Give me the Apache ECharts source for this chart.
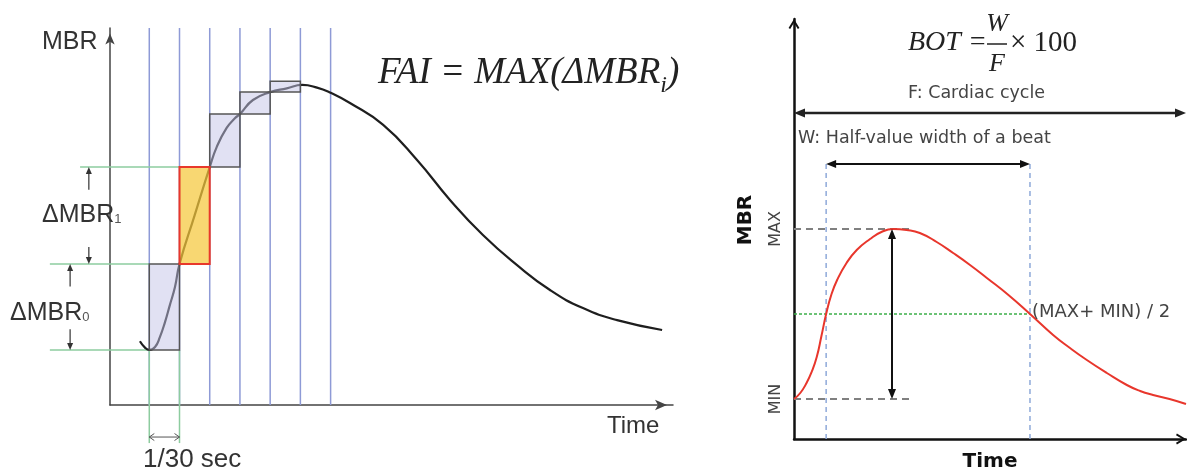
<!DOCTYPE html>
<html>
<head>
<meta charset="utf-8">
<script src="https://cdn.jsdelivr.net/npm/echarts@6/dist/echarts.min.js"></script>
<style>
  html, body { margin: 0; padding: 0; background: #ffffff; }
  #chart { width: 1187px; height: 475px; }
</style>
</head>
<body>
<div id="chart"></div>
<script>
// ---------- Left panel: MBR waveform sampled per video frame (1 frame = 1/30 s) ----------
const frameLines = [0, 1, 2, 3, 4, 5, 6];              // frame boundaries drawn as vertical lines
const frameIndex = [0, 1, 2, 3, 4, 5];                  // sampled frames
const frameMBR   = [14.6, 37.4, 63.1, 77.2, 83.0, 85.9];// MBR at each sampled frame
const curveFrame = [-0.31, -0.15, 0, 0.19, 0.35, 0.52, 0.68, 0.85, 1, 1.5, 2, 2.23, 2.56, 2.84, 3, 3.43, 4,
                    4.55, 5.06, 5.55, 5.98, 6.64, 7.74, 8.86, 9.95, 11.04, 12.17, 13.26, 14.35, 15.48, 16.97];
const curveMBR   = [16.9, 15.3, 14.6, 15.4, 18.0, 22.0, 26.5, 31.3, 37.4, 50.3, 63.1, 68.4, 73.5, 76.1, 77.2, 80.9, 83.0,
                    84.0, 84.9, 84.2, 82.9, 80.1, 74.3, 65.0, 54.4, 45.1, 37.1, 30.5, 25.7, 22.5, 19.9];

// ---------- Right panel: one beat of the MBR waveform ----------
const beatTime = [0, 1.6, 3.2, 4.5, 5.8, 7.0, 8.2, 9.5, 11.0, 13.4, 16.0, 19.4, 22.3, 25.3, 28.7, 32.1, 36.4,
                  40.6, 44.9, 49.2, 54.7, 60.2, 66.1, 70.4, 74.7, 79.8, 84.9, 88.3, 91.6, 95.8, 100];
const beatMBR  = [20, 23, 28, 33.5, 41, 51.5, 62.5, 72, 79.5, 88, 94.5, 100, 103.5, 105, 104.5, 103, 98.5,
                  93, 87, 80.5, 72, 62.5, 52, 45.5, 39.5, 33, 27, 24, 22, 20, 17.5];
const mbrMin = 20;
const mbrMax = 105;
const mbrHalf = (mbrMax + mbrMin) / 2;
const halfWidthTime = [8.2, 60.2];   // where the beat crosses (MAX+MIN)/2
const cycleTime = [0, 100];          // one cardiac cycle
const peakTime = 25;

// ---------- helpers ----------
const SANS = '"Liberation Sans", Arial, sans-serif';
const VERD = '"DejaVu Sans", Verdana, sans-serif';
const SERIF = '"Liberation Serif", "Times New Roman", serif';
const chevron = 'path://M0,10 L6,0 L12,10 L10.2,11 L6,4 L1.8,11 Z';

// Straight segments [x0, y0, x1, y1] in data space, with optional arrow heads
function segmentSeries(gridIdx, segs, st) {
  return {
    type: 'custom',
    xAxisIndex: gridIdx, yAxisIndex: gridIdx,
    z: st.z || 2, silent: true, clip: false,
    encode: { x: [0, 2], y: [1, 3] },
    data: segs,
    renderItem: function (params, api) {
      const a = api.coord([api.value(0), api.value(1)]);
      const b = api.coord([api.value(2), api.value(3)]);
      const dx = b[0] - a[0], dy = b[1] - a[1];
      const len = Math.hypot(dx, dy) || 1;
      const ux = dx / len, uy = dy / len, nx = -uy, ny = ux;
      const L = st.headLen || 0, W = st.headWidth || 0;
      const children = [];
      let s = a.slice(), e = b.slice();
      function head(tip, dxu, dyu) {
        const bx = tip[0] - dxu * L, by = tip[1] - dyu * L;
        const p1 = [bx + nx * W / 2, by + ny * W / 2];
        const p2 = [bx - nx * W / 2, by - ny * W / 2];
        if (st.headType === 'open') {
          children.push({ type: 'polyline', shape: { points: [p1, tip.slice(), p2] },
            style: { stroke: st.color, lineWidth: st.headLineWidth || st.width, fill: 'none' } });
        } else {
          children.push({ type: 'polygon', shape: { points: [p1, tip.slice(), p2] },
            style: { fill: st.color } });
        }
      }
      if (st.end) {
        head(b, ux, uy);
        if (st.headType !== 'open') e = [b[0] - ux * L * 0.7, b[1] - uy * L * 0.7];
      }
      if (st.start) {
        head(a, -ux, -uy);
        if (st.headType !== 'open') s = [a[0] + ux * L * 0.7, a[1] + uy * L * 0.7];
      }
      children.unshift({ type: 'line', shape: { x1: s[0], y1: s[1], x2: e[0], y2: e[1] },
        style: { stroke: st.color, lineWidth: st.width, lineDash: st.dash || null } });
      return { type: 'group', children: children };
    }
  };
}

// Step rectangles between consecutive frame samples
const steps = frameIndex.slice(0, -1).map((f, i) => [f, frameIndex[i + 1], frameMBR[i], frameMBR[i + 1]]);
const deltas = steps.map(r => r[3] - r[2]);
const maxIdx = deltas.indexOf(Math.max.apply(null, deltas));

function rectSeries(data, st) {
  return {
    type: 'custom', xAxisIndex: 0, yAxisIndex: 0, z: st.z, silent: true, clip: false,
    encode: { x: [0, 1], y: [2, 3] },
    data: data,
    renderItem: function (params, api) {
      const p0 = api.coord([api.value(0), api.value(3)]);
      const p1 = api.coord([api.value(1), api.value(2)]);
      return { type: 'rect',
        shape: { x: p0[0], y: p0[1], width: p1[0] - p0[0], height: p1[1] - p0[1] },
        style: { fill: st.fill, stroke: st.stroke, lineWidth: st.width } };
    }
  };
}

function txt(x, y, text, o) {
  return { type: 'text', x: x, y: y, silent: true, z: 20,
    style: Object.assign({ text: text, align: 'left', verticalAlign: 'middle', fill: '#333' }, o) };
}

const guideLeft0 = -3.29, guideLeft1 = -2.29, below = -10.1;

const option = {
  backgroundColor: '#ffffff',
  animation: false,
  grid: [
    { left: 110, top: 28, width: 563, height: 377, outerBoundsMode: 'none', containLabel: false },
    { left: 794, top: 19, width: 392, height: 420, outerBoundsMode: 'none', containLabel: false }
  ],
  xAxis: [
    { gridIndex: 0, type: 'value', min: -1.3, max: 17.33,
      axisLine: { show: true, onZero: false, symbol: ['none', 'arrow'], symbolSize: [8, 12], symbolOffset: [0, -6],
                  lineStyle: { color: '#444', width: 1.5 } },
      axisTick: { show: false }, axisLabel: { show: false }, splitLine: { show: false } },
    { gridIndex: 1, type: 'value', min: 0, max: 100,
      name: 'Time', nameLocation: 'middle', nameGap: 13,
      nameTextStyle: { fontFamily: VERD, fontWeight: 'bold', fontSize: 20, color: '#111' },
      axisLine: { show: true, onZero: false, symbol: ['none', chevron], symbolSize: [12, 10], symbolOffset: [0, -5],
                  lineStyle: { color: '#111', width: 2.5 } },
      axisTick: { show: false }, axisLabel: { show: false }, splitLine: { show: false } }
  ],
  yAxis: [
    { gridIndex: 0, type: 'value', min: 0, max: 100,
      axisLine: { show: true, onZero: false, symbol: ['none', 'arrow'], symbolSize: [7, 11], symbolOffset: [0, -5.5],
                  lineStyle: { color: '#444', width: 1.5 } },
      axisTick: { show: false }, axisLabel: { show: false }, splitLine: { show: false } },
    { gridIndex: 1, type: 'value', min: 0, max: 210,
      name: 'MBR', nameLocation: 'middle', nameRotate: 90, nameGap: 38,
      nameTextStyle: { fontFamily: VERD, fontWeight: 'bold', fontSize: 20, color: '#111', padding: [0, 0, 0, 18] },
      axisLine: { show: true, onZero: false, symbol: ['none', chevron], symbolSize: [12, 10], symbolOffset: [0, -5],
                  lineStyle: { color: '#111', width: 2.5 } },
      axisTick: { show: false }, splitLine: { show: false },
      axisLabel: { show: true, customValues: [mbrMin, mbrMax], rotate: 90, margin: 10,
                   formatter: v => (v === mbrMin ? 'MIN' : 'MAX'),
                   fontFamily: VERD, fontSize: 16, color: '#444' } }
  ],
  series: [
    // frame boundaries
    segmentSeries(0, frameLines.map(f => [f, 0, f, 100]), { color: '#8e9ad6', width: 1.5, z: 1 }),
    // green guides for ΔMBR and the 1/30 s interval
    segmentSeries(0, [
      [guideLeft0, frameMBR[0], frameIndex[0], frameMBR[0]],
      [guideLeft0, frameMBR[1], frameIndex[0], frameMBR[1]],
      [guideLeft1, frameMBR[2], frameIndex[1], frameMBR[2]],
      [frameIndex[0], frameMBR[0], frameIndex[0], below],
      [frameIndex[1], frameMBR[0], frameIndex[1], below]
    ], { color: '#8dcc9f', width: 1.5, z: 2 }),
    // MBR waveform
    { type: 'line', xAxisIndex: 0, yAxisIndex: 0, z: 3, clip: false, silent: true,
      data: curveFrame.map((t, i) => [t, curveMBR[i]]),
      showSymbol: false, symbol: 'none', smooth: 0.5,
      lineStyle: { color: '#1e1e1e', width: 2.2 } },
    // step rectangles
    rectSeries(steps.filter((r, i) => i !== maxIdx), { fill: 'rgba(195,195,232,0.5)', stroke: '#555', width: 1.5, z: 4 }),
    rectSeries([steps[maxIdx]], { fill: 'rgba(245,200,60,0.72)', stroke: '#e8382b', width: 2, z: 5 }),
    // ΔMBR arrows
    segmentSeries(0, [
      [-2.0, frameMBR[2] - 6, -2.0, frameMBR[2]],
      [-2.0, frameMBR[1] + 4.5, -2.0, frameMBR[1]],
      [-2.62, frameMBR[1] - 6, -2.62, frameMBR[1]],
      [-2.62, frameMBR[0] + 5.5, -2.62, frameMBR[0]]
    ], { color: '#333', width: 1.2, end: true, headLen: 7, headWidth: 6, z: 6 }),
    // 1/30 s interval
    segmentSeries(0, [[frameIndex[0], -8.5, frameIndex[1], -8.5]],
      { color: '#555', width: 1, start: true, end: true, headType: 'open', headLen: 5, headWidth: 7, z: 6 }),

    // ----- right panel -----
    segmentSeries(1, halfWidthTime.map(t => [t, 0, t, 139.5]),
      { color: '#8ea9d9', width: 1.5, dash: [5, 4], z: 1 }),
    segmentSeries(1, [[0, mbrMax, 29.6, mbrMax], [0, mbrMin, 29.6, mbrMin]],
      { color: '#808080', width: 2, dash: [7, 5], z: 2 }),
    segmentSeries(1, [[0, mbrHalf, halfWidthTime[1], mbrHalf]],
      { color: '#3cae4a', width: 1.5, dash: [3, 2], z: 2 }),
    { type: 'line', xAxisIndex: 1, yAxisIndex: 1, z: 3, clip: false, silent: true,
      data: beatTime.map((t, i) => [t, beatMBR[i]]),
      showSymbol: false, symbol: 'none', smooth: 0.5,
      lineStyle: { color: '#e8362c', width: 2 } },
    segmentSeries(1, [[cycleTime[0], 163, cycleTime[1], 163]],
      { color: '#222', width: 2.5, start: true, end: true, headLen: 11, headWidth: 9, z: 4 }),
    segmentSeries(1, [[halfWidthTime[0], 137.5, halfWidthTime[1], 137.5], [peakTime, mbrMin, peakTime, mbrMax]],
      { color: '#111', width: 2, start: true, end: true, headLen: 10, headWidth: 8, z: 4 })
  ],
  graphic: [
    txt(42, 42, 'MBR', { fontFamily: SANS, fontSize: 25 }),
    txt(607, 426, 'Time', { fontFamily: SANS, fontSize: 24 }),
    txt(42, 215, '{a|ΔMBR}{s|1}', { rich: {
      a: { fontFamily: SANS, fontSize: 25, fill: '#333', verticalAlign: 'bottom' },
      s: { fontFamily: SANS, fontSize: 13, fill: '#555', verticalAlign: 'bottom', padding: [0, 0, 2, 0] } } }),
    txt(10, 313, '{a|ΔMBR}{s|0}', { rich: {
      a: { fontFamily: SANS, fontSize: 25, fill: '#333', verticalAlign: 'bottom' },
      s: { fontFamily: SANS, fontSize: 13, fill: '#555', verticalAlign: 'bottom', padding: [0, 0, 2, 0] } } }),
    txt(143, 460, '1/30 sec', { fontFamily: SANS, fontSize: 26 }),
    txt(378, 76, '{m|FAI = MAX(ΔMBR}{i|i}{m|)}', { rich: {
      m: { fontFamily: SERIF, fontStyle: 'italic', fontSize: 37, fill: '#222', verticalAlign: 'bottom', padding: [0, 0, 6, 0] },
      i: { fontFamily: SERIF, fontStyle: 'italic', fontSize: 24, fill: '#222', verticalAlign: 'bottom' } } }),
    // BOT = W / F × 100
    txt(908, 43, 'BOT =', { fontFamily: SERIF, fontStyle: 'italic', fontSize: 28, fill: '#222' }),
    txt(997, 24, 'W', { fontFamily: SERIF, fontStyle: 'italic', fontSize: 26, fill: '#222', align: 'center' }),
    txt(997, 64, 'F', { fontFamily: SERIF, fontStyle: 'italic', fontSize: 26, fill: '#222', align: 'center' }),
    { type: 'line', silent: true, z: 20, shape: { x1: 987, y1: 44, x2: 1007, y2: 44 }, style: { stroke: '#222', lineWidth: 1.5 } },
    txt(1010, 43, '× 100', { fontFamily: SERIF, fontSize: 29, fill: '#222' }),
    txt(908, 93, 'F: Cardiac cycle', { fontFamily: VERD, fontSize: 17.5, fill: '#444' }),
    txt(798, 138, 'W: Half-value width of a beat', { fontFamily: VERD, fontSize: 17.5, fill: '#444' }),
    txt(1032, 312, '(MAX+ MIN) / 2', { fontFamily: VERD, fontSize: 18, fill: '#444' })
  ]
};

const chart = echarts.init(document.getElementById('chart'));
chart.setOption(option);
</script>
</body>
</html>
